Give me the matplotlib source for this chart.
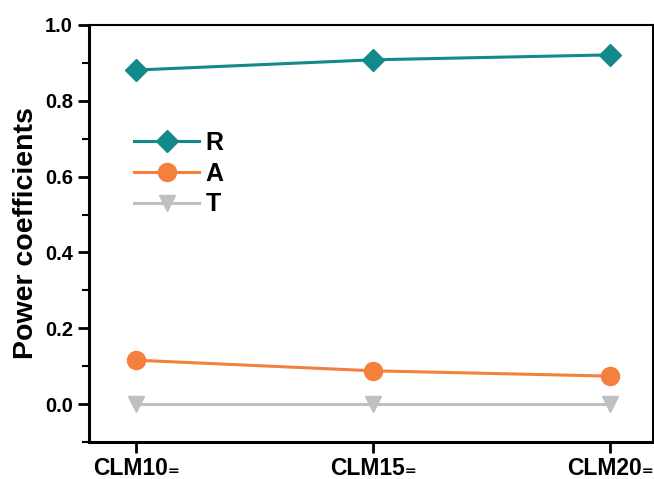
import matplotlib.pyplot as plt
from matplotlib.ticker import MultipleLocator

plt.rcParams['font.family'] = ['Liberation Sans', 'DejaVu Sans']
plt.rcParams['font.weight'] = 'bold'

categories = ['CLM10\u208c', 'CLM15\u208c', 'CLM20\u208c']
r_values = [0.881, 0.908, 0.921]
a_values = [0.116, 0.088, 0.074]
t_values = [0.0, 0.0, 0.0]

x = range(len(categories))

fig = plt.figure(figsize=(6.54, 4.79), dpi=100)
ax = fig.add_axes([0.136, 0.077, 0.8625, 0.871])

ax.plot(x, r_values, color='#12898A', marker='D', markersize=11, linewidth=2.2, label='R')
ax.plot(x, a_values, color='#F57F3D', marker='o', markersize=13, linewidth=2.2, label='A')
ax.plot(x, t_values, color='#C0C0C0', marker='v', markersize=12, linewidth=2.2, label='T')

ax.set_xlim(-0.2, 2.18)
ax.set_ylim(-0.1, 1.0)
ax.set_xticks(list(x))
ax.set_xticklabels(categories, fontsize=16.5, fontweight='bold')
ax.yaxis.set_major_locator(MultipleLocator(0.2))
ax.yaxis.set_minor_locator(MultipleLocator(0.1))
ax.yaxis.set_major_formatter(plt.FormatStrFormatter('%.1f'))

ax.tick_params(axis='both', which='major', direction='out', length=8, width=2)
ax.tick_params(axis='y', which='major', labelsize=14.5)
ax.tick_params(axis='y', which='minor', direction='out', length=5, width=1.5)
ax.tick_params(axis='x', pad=3)

for s in ['left', 'bottom']:
    ax.spines[s].set_linewidth(2.2)
for s in ['top', 'right']:
    ax.spines[s].set_linewidth(1.5)

ax.set_ylabel('Power coefficients', fontsize=20.5, fontweight='bold', labelpad=4)

ax.legend(loc='upper left', bbox_to_anchor=(0.04, 0.80), frameon=False,
          handlelength=2.6, labelspacing=0.27, handletextpad=0.25,
          prop={'weight': 'bold', 'size': 18})

fig.savefig('out.png', dpi=100)
